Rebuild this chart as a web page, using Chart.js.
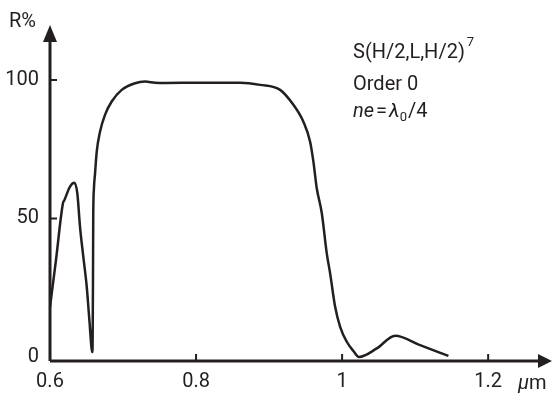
<!DOCTYPE html>
<html>
<head>
<meta charset="utf-8">
<script src="https://cdn.jsdelivr.net/npm/chart.js@4.4.0/dist/chart.umd.min.js"></script>
<style>
  html, body { margin: 0; padding: 0; background: #fff; }
</style>
</head>
<body>
<canvas id="chartR" width="552" height="398"></canvas>
<script>
// wavelength in um, reflectance in %
var wavelength = [0.600, 0.6082, 0.6178, 0.6195, 0.6274, 0.6333, 0.6374, 0.6411, 0.6456, 0.6503, 0.6539, 0.6579,
                  0.6584, 0.6589, 0.6592, 0.6601, 0.6616, 0.6640, 0.6685, 0.6753, 0.6845, 0.6982, 0.7164, 0.7301,
                  0.7438, 0.7575, 0.8055, 0.8603, 0.8877, 0.9151, 0.9333, 0.9470, 0.9562, 0.9607, 0.9653, 0.9722,
                  0.9790, 0.9836, 0.9904, 0.9973, 1.0064, 1.0160, 1.0230, 1.0475, 1.0726, 1.1068, 1.1456];
var reflectance = [18.1, 35.0, 55.6, 56.5, 61.5, 62.9, 59.1, 47.0, 36.2, 25.4, 13.4, 1.8,
                   6.1, 30.3, 50.0, 60.5, 65.9, 74.1, 81.3, 87.4, 92.2, 96.4, 98.8, 99.4,
                   99.0, 98.9, 99.0, 99.0, 98.2, 96.4, 91.0, 84.9, 77.7, 70.5, 60.9, 51.9,
                   37.4, 30.2, 18.2, 10.9, 5.5, 2.0, 0.0, 3.1, 7.7, 4.3, 0.4];
var xTicks = [0.6, 0.8, 1.0, 1.2];
var xTickLabels = ['0.6', '0.8', '1', '1.2'];
var yTicks = [0, 50, 100];

var FONT = "Roboto, 'Liberation Sans', sans-serif";
var INK = '#231f20';

var points = [];
for (var i = 0; i < wavelength.length; i++) {
    points.push({x: wavelength[i], y: reflectance[i]});
}

// axes with arrows, inward ticks and the text labels
var axesPlugin = {
    id: 'axesPlugin',
    afterDraw: function(chart) {
        var ctx = chart.ctx;
        var a = chart.chartArea;
        var xs = chart.scales.x;
        var ys = chart.scales.y;
        ctx.save();
        ctx.strokeStyle = INK;
        ctx.fillStyle = INK;
        ctx.lineWidth = 3;
        ctx.beginPath();
        ctx.moveTo(a.left, a.bottom);
        ctx.lineTo(a.left, a.top);
        ctx.moveTo(a.left, a.bottom);
        ctx.lineTo(a.right, a.bottom);
        ctx.stroke();
        // arrow heads
        ctx.beginPath();
        ctx.moveTo(a.left, a.top - 15);
        ctx.lineTo(a.left - 7, a.top + 2);
        ctx.lineTo(a.left + 7, a.top + 2);
        ctx.closePath();
        ctx.fill();
        ctx.beginPath();
        ctx.moveTo(a.right + 12, a.bottom);
        ctx.lineTo(a.right - 2, a.bottom - 7);
        ctx.lineTo(a.right - 2, a.bottom + 7);
        ctx.closePath();
        ctx.fill();
        // ticks pointing inside
        ctx.lineWidth = 2;
        ctx.beginPath();
        yTicks.forEach(function(v) {
            if (v === 0) return;
            var py = ys.getPixelForValue(v);
            ctx.moveTo(a.left, py);
            ctx.lineTo(a.left + 7, py);
        });
        xTicks.forEach(function(v) {
            if (v === 0.6) return;
            var px = xs.getPixelForValue(v);
            ctx.moveTo(px, a.bottom);
            ctx.lineTo(px, a.bottom - 7);
        });
        ctx.stroke();

        // axis titles
        ctx.textBaseline = 'alphabetic';
        ctx.textAlign = 'left';
        ctx.font = '20px ' + FONT;
        ctx.fillText('R%', 9, 27);
        ctx.font = 'italic 20px ' + FONT;
        ctx.fillText('\u03bc', 518, 389);
        var w = ctx.measureText('\u03bc').width;
        ctx.font = '20px ' + FONT;
        ctx.fillText('m', 518 + w, 389);

        // annotation
        var x0 = 353;
        ctx.font = '20px ' + FONT;
        ctx.fillText('S(H/2,L,H/2)', x0, 58);
        w = ctx.measureText('S(H/2,L,H/2)').width;
        ctx.font = '13px ' + FONT;
        ctx.fillText('7', x0 + w + 2, 46);
        ctx.font = '20px ' + FONT;
        ctx.fillText('Order 0', x0, 90);
        var cx = x0;
        ctx.font = 'italic 20px ' + FONT;
        ctx.fillText('ne', cx, 117);
        cx += ctx.measureText('ne').width + 2;
        ctx.font = '20px ' + FONT;
        ctx.fillText('=', cx, 117);
        cx += ctx.measureText('=').width + 2;
        ctx.font = 'italic 20px ' + FONT;
        ctx.fillText('\u03bb', cx, 117);
        cx += ctx.measureText('\u03bb').width;
        ctx.font = '13px ' + FONT;
        ctx.fillText('0', cx, 121);
        cx += ctx.measureText('0').width + 1;
        ctx.font = '20px ' + FONT;
        ctx.fillText('/4', cx, 117);
        ctx.restore();
    }
};

var ctx = document.getElementById('chartR');
var chartR = new Chart(ctx, {
    type: 'scatter',
    data: {
        datasets: [{
            label: 'R%',
            data: points,
            showLine: true,
            borderColor: INK,
            borderWidth: 2.5,
            pointRadius: 0,
            cubicInterpolationMode: 'monotone',
            fill: false
        }]
    },
    options: {
        responsive: false,
        animation: false,
        layout: {
            padding: {top: 40, right: 12, left: 0, bottom: 0}
        },
        plugins: {
            legend: {display: false},
            tooltip: {enabled: false}
        },
        scales: {
            x: {
                type: 'linear',
                min: 0.6,
                max: 1.271,
                afterBuildTicks: function(s) {
                    s.ticks = xTicks.map(function(v) { return {value: v}; });
                },
                afterFit: function(s) { s.height = 37; },
                grid: {display: false, drawTicks: false},
                border: {display: false},
                ticks: {
                    autoSkip: false,
                    maxRotation: 0,
                    padding: 9,
                    color: INK,
                    font: {family: FONT, size: 20},
                    callback: function(v, idx) { return xTickLabels[idx]; }
                }
            },
            y: {
                type: 'linear',
                min: -1.44,
                max: 114.4,
                afterBuildTicks: function(s) {
                    s.ticks = yTicks.map(function(v) { return {value: v}; });
                },
                afterFit: function(s) { s.width = 50; },
                grid: {display: false, drawTicks: false},
                border: {display: false},
                ticks: {
                    autoSkip: false,
                    padding: 11,
                    color: INK,
                    font: {family: FONT, size: 20}
                }
            }
        }
    },
    plugins: [axesPlugin]
});
</script>
</body>
</html>
